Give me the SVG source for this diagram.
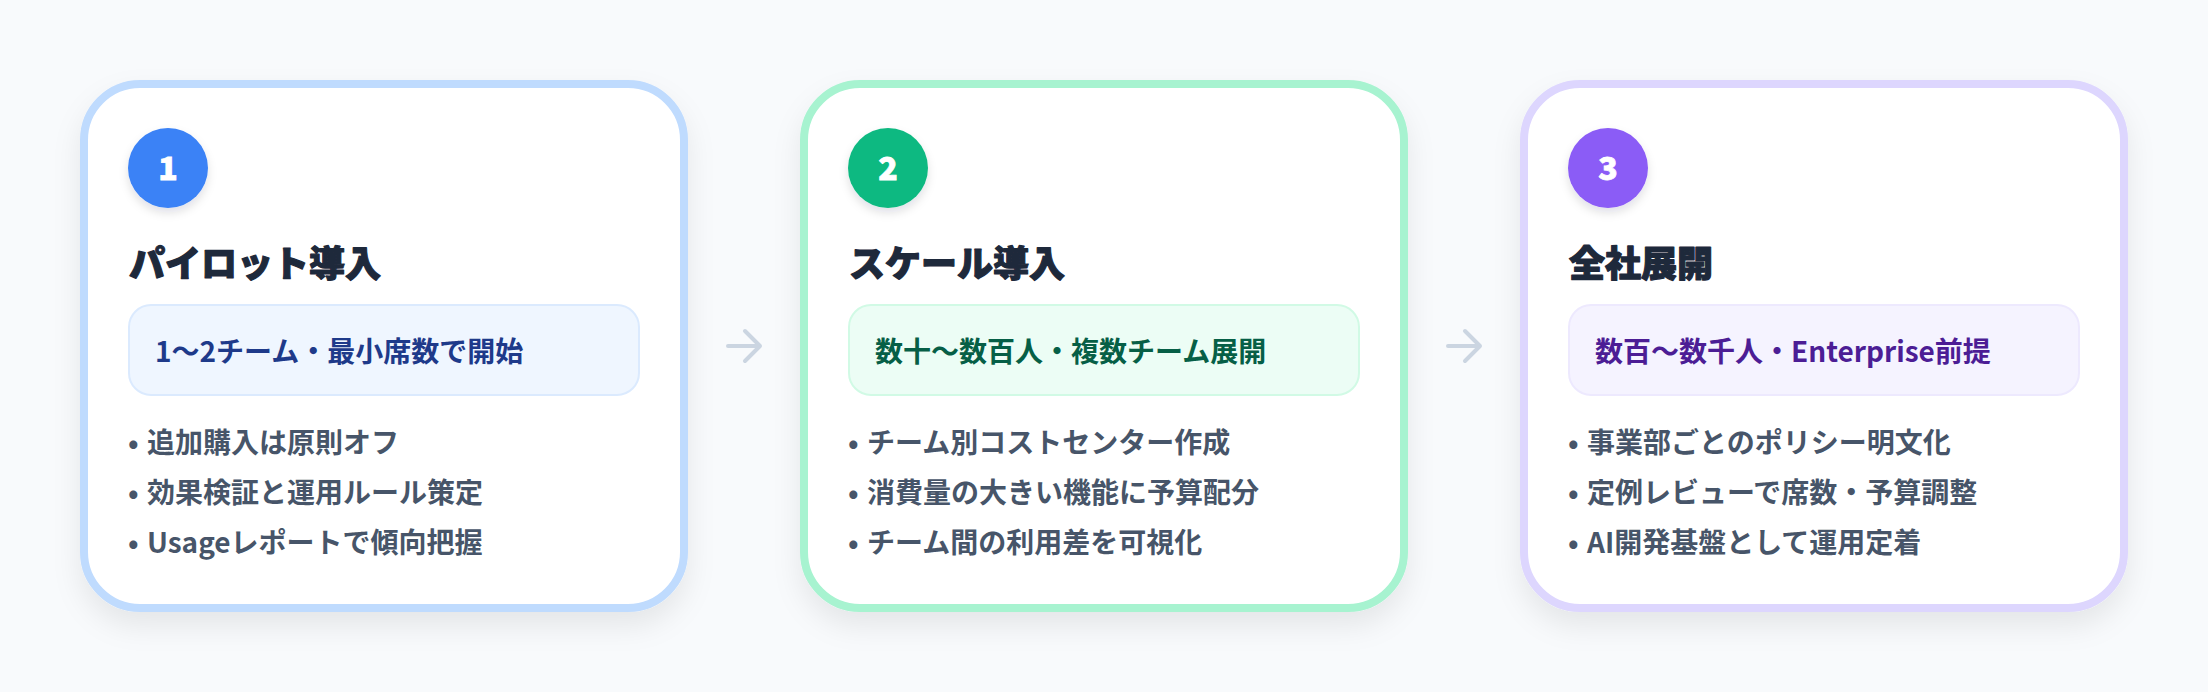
<svg xmlns="http://www.w3.org/2000/svg" width="2208" height="692" viewBox="0 0 2208 692">
<style>
text{font-family:"Noto Sans CJK JP","Noto Sans",sans-serif;font-weight:700}
.card{fill:#ffffff;stroke-width:8}
.box{stroke-width:2}
.title{font-size:36px;fill:#1e293b;font-weight:900;stroke:#1e293b;stroke-width:1.2;stroke-linejoin:round}
.num{font-size:32px;fill:#ffffff;text-anchor:middle;font-weight:900;stroke:#ffffff;stroke-width:0.8}
.tag{font-size:28px}
.bul{font-size:28px;fill:#475569}
.arrow{fill:none;stroke:#cbd5e1;stroke-width:4;stroke-linecap:round;stroke-linejoin:round}
</style>
<defs>
<filter id="sh" x="-20%" y="-20%" width="140%" height="150%">
<feDropShadow dx="0" dy="14" stdDeviation="14" flood-color="#0f172a" flood-opacity="0.08"/>
</filter>
<filter id="bsh" x="-50%" y="-50%" width="200%" height="200%">
<feDropShadow dx="0" dy="5" stdDeviation="5" flood-color="#0f172a" flood-opacity="0.12"/>
</filter>
</defs>
<rect width="2208" height="692" fill="#f8fafc"/>
<g id="step1">
<rect class="card" x="84" y="84" width="600" height="524" rx="56" stroke="#bfdbfe" filter="url(#sh)"/>
<circle cx="168" cy="168" r="40" fill="#3b82f6" filter="url(#bsh)"/>
<text class="num" x="168" y="180">1</text>
<text class="title" x="129" y="277">パイロット導入</text>
<rect class="box" x="129" y="305" width="510" height="90" rx="22" fill="#eff6ff" stroke="#dbeafe"/>
<text class="tag" x="155" y="362" fill="#1e3a8a">1〜2チーム・最小席数で開始</text>
<text class="bul" x="128" y="453">•<tspan x="147">追加購入は原則オフ</tspan></text>
<text class="bul" x="128" y="503">•<tspan x="147">効果検証と運用ルール策定</tspan></text>
<text class="bul" x="128" y="553">•<tspan x="147">Usageレポートで傾向把握</tspan></text>
</g>
<g id="step2">
<rect class="card" x="804" y="84" width="600" height="524" rx="56" stroke="#a7f3d0" filter="url(#sh)"/>
<circle cx="888" cy="168" r="40" fill="#10b981" filter="url(#bsh)"/>
<text class="num" x="888" y="180">2</text>
<text class="title" x="849" y="277">スケール導入</text>
<rect class="box" x="849" y="305" width="510" height="90" rx="22" fill="#ecfdf5" stroke="#d1fae5"/>
<text class="tag" x="875" y="362" fill="#065f46">数十〜数百人・複数チーム展開</text>
<text class="bul" x="848" y="453">•<tspan x="867">チーム別コストセンター作成</tspan></text>
<text class="bul" x="848" y="503">•<tspan x="867">消費量の大きい機能に予算配分</tspan></text>
<text class="bul" x="848" y="553">•<tspan x="867">チーム間の利用差を可視化</tspan></text>
</g>
<g id="step3">
<rect class="card" x="1524" y="84" width="600" height="524" rx="56" stroke="#ddd6fe" filter="url(#sh)"/>
<circle cx="1608" cy="168" r="40" fill="#8b5cf6" filter="url(#bsh)"/>
<text class="num" x="1608" y="180">3</text>
<text class="title" x="1569" y="277">全社展開</text>
<rect class="box" x="1569" y="305" width="510" height="90" rx="22" fill="#f5f3ff" stroke="#ede9fe"/>
<text class="tag" x="1595" y="362" fill="#4c1d95">数百〜数千人・Enterprise前提</text>
<text class="bul" x="1568" y="453">•<tspan x="1587">事業部ごとのポリシー明文化</tspan></text>
<text class="bul" x="1568" y="503">•<tspan x="1587">定例レビューで席数・予算調整</tspan></text>
<text class="bul" x="1568" y="553">•<tspan x="1587">AI開発基盤として運用定着</tspan></text>
</g>
<g id="connectors">
<path class="arrow" d="M728 346 H760 M745 331 L760 346 L745 361"/>
<path class="arrow" d="M1448 346 H1480 M1465 331 L1480 346 L1465 361"/>
</g>
</svg>
